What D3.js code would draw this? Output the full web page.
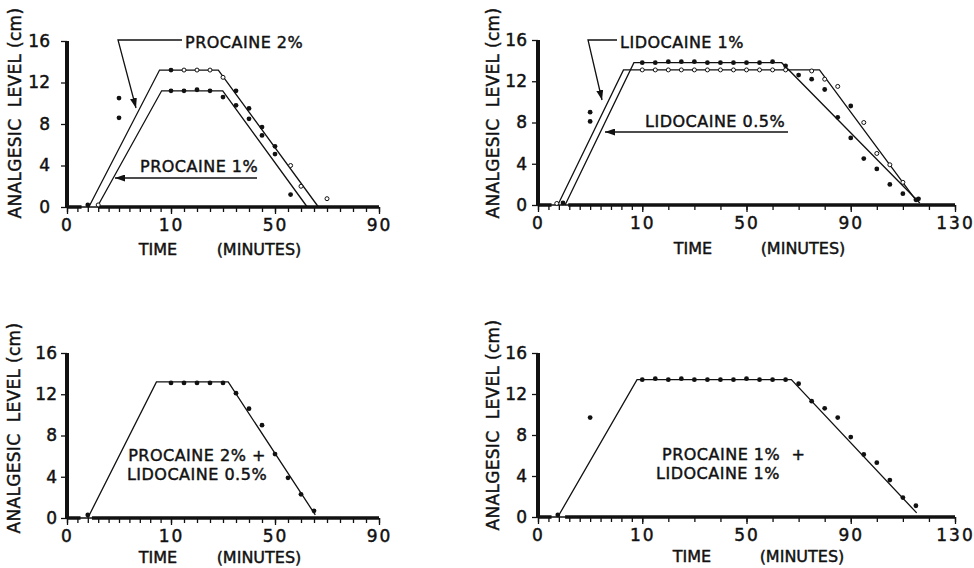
<!DOCTYPE html>
<html>
<head>
<meta charset="utf-8">
<script src="https://cdn.jsdelivr.net/npm/d3@7"></script>
<style>
  body { margin: 0; background: #fff; }
  text { font-family: "DejaVu Sans", sans-serif; fill: #111; stroke: #111; stroke-width: 0.45px; }
</style>
</head>
<body>
<div class="fig"></div>
<script>
// ---- data (minutes, analgesic level in cm) ----
const yTicks = [0, 4, 8, 12, 16];
const xBreaksShort = [0, 10, 50, 90];
const xBreaksLong = [0, 10, 50, 90, 130];

// panel 1: procaine 2% and 1%
const procaine2Line = [[2.1, 0], [8.9, 13.2], [28.2, 13.2], [66.7, 0]];
const procaine1Line = [[2.9, 0], [9.1, 11.2], [29.9, 11.2], [62.4, 0]];
const p1Filled = [[2, 0.2], [5, 10.5], [5, 8.6], [10, 13.2], [10, 11.2], [15, 11.2], [20, 11.3],
  [25, 11.2], [30, 10.6], [35, 11.2], [35, 9.8], [40, 9.5], [40, 8.5], [45, 7.7], [45, 6.9],
  [50, 5.85], [50, 5.1], [56, 1.2]];
const p1Open = [[3, 0.2], [15, 13.2], [20, 13.2], [25, 13.2], [30, 12.5], [56, 4.0], [60, 2.0], [70, 0.8]];
const p1Zero = [[0, 1.4], [3, 90]];

// panel 2: lidocaine 1% and 0.5%
const lido1Line = [[1.9, 0], [8.2, 13.1], [78, 13.1], [115.5, 0.3]];
const lido05Line = [[2.6, 0], [9.2, 13.8], [63.5, 13.8], [116.5, 0.2]];
const p2Filled = [[2.4, 0.2], [5, 9.0], [5, 8.1],
  [10, 13.8], [15, 13.8], [20, 13.9], [25, 13.9], [30, 13.9], [35, 13.8], [40, 13.8], [45, 13.8],
  [50, 13.8], [55, 13.8], [60, 13.9], [65, 13.5], [70, 12.6], [75, 12.2], [80, 11.2], [85, 8.5],
  [90, 9.6], [90, 6.5], [95, 4.5], [100, 3.5], [105, 2.0], [110, 1.1], [115, 0.5], [116, 0.6]];
const p2Open = [[1.8, 0.15],
  [10, 13.1], [15, 13.1], [20, 13.1], [25, 13.1], [30, 13.1], [35, 13.1], [40, 13.1], [45, 13.1],
  [50, 13.1], [55, 13.1], [60, 13.1], [65, 13.1], [75, 13.0], [80, 12.2], [85, 11.5], [95, 8.0],
  [100, 5.0], [105, 3.9], [110, 2.2]];
const p2Zero = [[0, 1.3], [2.9, 130]];

// panel 3: procaine 2% + lidocaine 0.5%
const mixALine = [[2.0, 0], [8.6, 13.2], [32, 13.2], [65.5, 0.3]];
const p3Filled = [[2, 0.3], [10, 13.1], [15, 13.1], [20, 13.1], [25, 13.1], [30, 13.1], [35, 12.1],
  [40, 10.6], [45, 9.0], [50, 6.2], [55, 3.9], [60, 2.3], [65, 0.7]];
const p3Zero = [[0, 1.3], [2.4, 90]];

// panel 4: procaine 1% + lidocaine 1%
const mixBLine = [[1.9, 0], [9.5, 13.4], [67.2, 13.4], [115.3, 0.4]];
const p4Filled = [[1.9, 0.2], [5, 9.7],
  [10, 13.4], [15, 13.5], [20, 13.4], [25, 13.5], [30, 13.4], [35, 13.4], [40, 13.4], [45, 13.4],
  [50, 13.5], [55, 13.4], [60, 13.4], [65, 13.4], [70, 13.0], [75, 11.3], [80, 10.6], [85, 9.7],
  [90, 7.8], [95, 6.1], [100, 5.3], [105, 3.6], [110, 1.9], [115, 1.1]];
const p4Zero = [[0, 1.3], [2.6, 130]];

// ---- layout ----
const panels = [
  { x0: 67, x1: 379, top: 41, base: 207, breaks: xBreaksShort, step: 5, lines: [procaine2Line, procaine1Line],
    filled: p1Filled, open: p1Open, zero: p1Zero, labX: 15, labY: 113, gap: 9, timeX: 158, minX: 259, titleDy: 48,
    notes: [
      { text: "PROCAINE 2%", x: 185, y: 48 },
      { text: "PROCAINE 1%", x: 140, y: 172 }],
    leaders: [[[182, 40], [118, 40], [136, 108]], [[257, 178], [115, 178]]] },
  { x0: 538, x1: 955, top: 40, base: 205, breaks: xBreaksLong, step: 10, lines: [lido1Line, lido05Line],
    filled: p2Filled, open: p2Open, zero: p2Zero, labX: 493, labY: 113, gap: 3, timeX: 693, minX: 803, titleDy: 49,
    notes: [
      { text: "LIDOCAINE 1%", x: 620, y: 48 },
      { text: "LIDOCAINE 0.5%", x: 645, y: 127 }],
    leaders: [[[617, 40], [588, 40], [602, 100]], [[788, 132], [605, 132]]] },
  { x0: 67, x1: 379, top: 353, base: 518, breaks: xBreaksShort, step: 5, lines: [mixALine],
    filled: p3Filled, open: [], zero: p3Zero, labX: 14, labY: 428, gap: 2, timeX: 158, minX: 259, titleDy: 45,
    notes: [
      { text: "PROCAINE 2% +", x: 197, y: 461, anchor: "middle" },
      { text: "LIDOCAINE 0.5%", x: 197, y: 480, anchor: "middle" }],
    leaders: [] },
  { x0: 538, x1: 955, top: 353, base: 517, breaks: xBreaksLong, step: 10, lines: [mixBLine],
    filled: p4Filled, open: [], zero: p4Zero, labX: 493, labY: 425, gap: 3, timeX: 692, minX: 802, titleDy: 45,
    notes: [
      { text: "PROCAINE 1%  +", x: 662, y: 460 },
      { text: "LIDOCAINE 1%", x: 656, y: 479 }],
    leaders: [] }
];

const svg = d3.select(".fig").append("svg")
  .attr("width", 974)
  .attr("height", 568);

svg.append("defs").append("marker")
  .attr("id", "head")
  .attr("viewBox", "0 0 10 7")
  .attr("refX", 10).attr("refY", 3.5)
  .attr("markerWidth", 10).attr("markerHeight", 7)
  .attr("markerUnits", "userSpaceOnUse")
  .attr("orient", "auto")
  .append("path").attr("d", "M0,0 L10,3.5 L0,7 z").attr("fill", "#111");

panels.forEach(function (p) {
  const n = p.breaks.length - 1;
  const x = d3.scaleLinear()
    .domain(p.breaks)
    .range(p.breaks.map((d, i) => p.x0 + i * (p.x1 - p.x0) / n));
  const y = d3.scaleLinear().domain([0, 16]).range([p.base, p.top]);
  const xMax = p.breaks[n];

  const g = svg.append("g");

  // minor ticks: every minute up to 10, then every 5 or 10 minutes
  const minor = d3.range(0, 10, 1).concat(d3.range(10, xMax + 1, p.step));
  g.append("g")
    .attr("transform", "translate(0," + p.base + ")")
    .call(d3.axisBottom(x).tickValues(minor).tickSize(5).tickFormat(""))
    .call(a => a.select(".domain").remove())
    .selectAll("line").attr("stroke", "#111").attr("stroke-width", 1.3);

  const xa = g.append("g")
    .attr("transform", "translate(0," + p.base + ")")
    .call(d3.axisBottom(x).tickValues(p.breaks).tickSize(7).tickPadding(5).tickFormat(d3.format("d")));
  xa.select(".domain").remove();
  xa.selectAll("line").attr("stroke", "#111").attr("stroke-width", 1.3);
  xa.selectAll("text").attr("font-size", 17).attr("letter-spacing", "2px")
    .attr("font-family", "DejaVu Sans").attr("fill", "#111");

  const ya = g.append("g")
    .attr("transform", "translate(" + p.x0 + ",0)")
    .call(d3.axisLeft(y).tickValues(yTicks).tickSize(6).tickPadding(p.gap + 2));
  ya.select(".domain").remove();
  ya.selectAll("line").attr("stroke", "#111").attr("stroke-width", 1.3);
  ya.selectAll("text").attr("font-size", 17).attr("font-family", "DejaVu Sans").attr("fill", "#111");

  // thin baseline + thick zero readings, heavy y axis
  g.append("line")
    .attr("x1", x(0)).attr("x2", x(xMax))
    .attr("y1", y(0)).attr("y2", y(0))
    .attr("stroke", "#111").attr("stroke-width", 1.3);
  g.selectAll(".zero").data(p.zero).enter().append("line")
    .attr("x1", d => x(d[0])).attr("x2", d => x(d[1]))
    .attr("y1", y(0)).attr("y2", y(0))
    .attr("stroke", "#111").attr("stroke-width", 3.5);
  g.append("line")
    .attr("x1", p.x0).attr("x2", p.x0)
    .attr("y1", y(0) + 1).attr("y2", y(16))
    .attr("stroke", "#111").attr("stroke-width", 4);

  // fitted lines
  const line = d3.line().x(d => x(d[0])).y(d => y(d[1]));
  g.selectAll(".fit").data(p.lines).enter().append("path")
    .attr("d", line)
    .attr("fill", "none")
    .attr("stroke", "#111")
    .attr("stroke-width", 1.3);

  // observations
  g.selectAll(".dot").data(p.filled).enter().append("circle")
    .attr("cx", d => x(d[0])).attr("cy", d => y(d[1]))
    .attr("r", 2.4).attr("fill", "#111");
  g.selectAll(".ring").data(p.open).enter().append("circle")
    .attr("cx", d => x(d[0])).attr("cy", d => y(d[1]))
    .attr("r", 2).attr("fill", "#fff").attr("stroke", "#111").attr("stroke-width", 1);

  // axis titles
  g.append("text")
    .attr("transform", "translate(" + p.labX + "," + p.labY + ") rotate(-90)")
    .attr("text-anchor", "middle")
    .attr("dy", "0.36em")
    .attr("font-size", 17)
    .attr("letter-spacing", "0.3px")
    .style("white-space", "pre")
    .text("ANALGESIC  LEVEL (cm)");
  g.append("text").attr("x", p.timeX).attr("y", p.base + p.titleDy)
    .attr("text-anchor", "middle").attr("font-size", 16).text("TIME");
  g.append("text").attr("x", p.minX).attr("y", p.base + p.titleDy)
    .attr("text-anchor", "middle").attr("font-size", 16).text("(MINUTES)");

  // labels and arrows
  g.selectAll(".note").data(p.notes).enter().append("text")
    .attr("x", d => d.x).attr("y", d => d.y)
    .attr("text-anchor", d => d.anchor || "start")
    .attr("font-size", 16)
    .attr("letter-spacing", "0.5px")
    .style("white-space", "pre")
    .text(d => d.text);
  g.selectAll(".leader").data(p.leaders).enter().append("path")
    .attr("d", d3.line())
    .attr("fill", "none")
    .attr("stroke", "#111")
    .attr("stroke-width", 1.3)
    .attr("marker-end", "url(#head)");
});
</script>
</body>
</html>
